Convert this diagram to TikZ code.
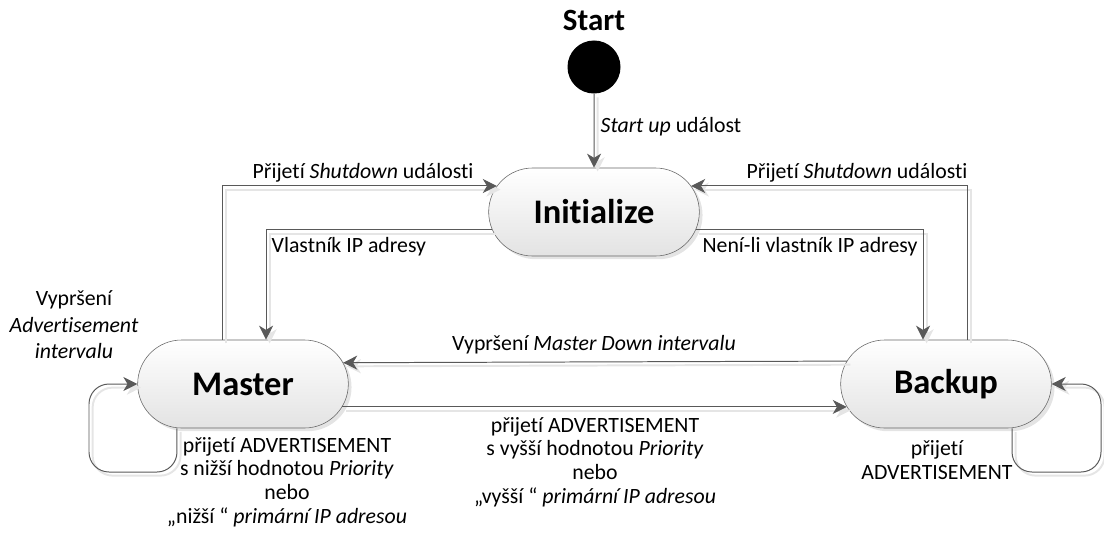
\documentclass[tikz,border=0pt]{standalone}
\usepackage{fontspec}
\setmainfont[Ligatures=NoCommon]{Carlito}
\usetikzlibrary{arrows.meta,shapes.misc,shadows}

\begin{document}
\begin{tikzpicture}[x=0.025cm,y=-0.025cm,
        state/.style={rounded rectangle,draw=black!60,thin,
          top color=white,bottom color=black!11,
          minimum width=5.5cm,minimum height=2.2cm,
          font=\fontsize{24.5}{28}\selectfont\bfseries,
          drop shadow={shadow xshift=0.08cm,shadow yshift=-0.08cm,
            fill=black!30,opacity=0.35}},
        initial/.style={circle,fill=black,inner sep=0pt,minimum size=1.325cm},
        trans/.style={draw=black!65,line width=0.7pt,
          -{Stealth[length=10pt,width=10pt,inset=3pt]},
          preaction={draw=black!10,line width=1.4pt,
            transform canvas={shift={(0.09cm,-0.09cm)}}}},
        lbl/.style={font=\fontsize{15.5}{16.8}\selectfont,inner sep=1pt,align=center}]
      \useasboundingbox (0,0) rectangle (1104,541);
      \node (starttxt) at (594,20) [font=\fontsize{22}{26}\selectfont\bfseries] {Start};
      \node (start) at (594,67) [initial] {};
      \node (init) at (594,212) [state] {Initialize};
      \node (master) at (243,384) [state] {Master};
      \node (backup) at (946,384) [state] {Backup};
      % prechody
      \draw[trans] (start) -- (init);
      \draw[trans] ([xshift=-0.525cm]master.north) |- (init.165);
      \draw[trans] ([xshift=0.525cm]backup.north) |- (init.15);
      \draw[trans] (init.190) -| ([xshift=0.575cm]master.north);
      \draw[trans] (init.350) -| ([xshift=-0.575cm]backup.north);
      \draw[trans] (backup.167.5) -- (master.12.5);
      \draw[trans] (master.347) -- (backup.193);
      \draw[trans,rounded corners=0.5cm] ([xshift=-1.65cm]master.south) |- (89,472) |- (master.west);
      \draw[trans,rounded corners=0.5cm] ([xshift=1.65cm]backup.south) |- (1101,472) |- (backup.east);
      % popisky
      \node (lstart) at (599,127) [lbl,anchor=west] {\textit{Start up} událost};
      \node (lshutm) at (363,173) [lbl] {Přijetí \textit{Shutdown} události};
      \node (lshutb) at (857,173) [lbl] {Přijetí \textit{Shutdown} události};
      \node (lown) at (270,247) [lbl,anchor=west] {Vlastník IP adresy};
      \node (lnotown) at (810,247) [lbl] {Není-li vlastník IP adresy};
      \node (ladv) at (74,325) [lbl,font=\fontsize{15.5}{18.8}\selectfont] {Vypršení\\\textit{Advertisement}\\\textit{intervalu}};
      \node (ldown) at (594,345) [lbl] {Vypršení \textit{Master Down intervalu}};
      \node (lhigher) at (595,462) [lbl] {přijetí ADVERTISEMENT\\s vyšší hodnotou \textit{Priority}\\nebo\\„vyšší “ \textit{primární IP adresou}};
      \node (llower) at (287,482) [lbl] {přijetí ADVERTISEMENT\\s nižší hodnotou \textit{Priority}\\nebo\\„nižší “ \textit{primární IP adresou}};
      \node (lbackup) at (937,460) [lbl] {přijetí\\ADVERTISEMENT};
\end{tikzpicture}
\end{document}
